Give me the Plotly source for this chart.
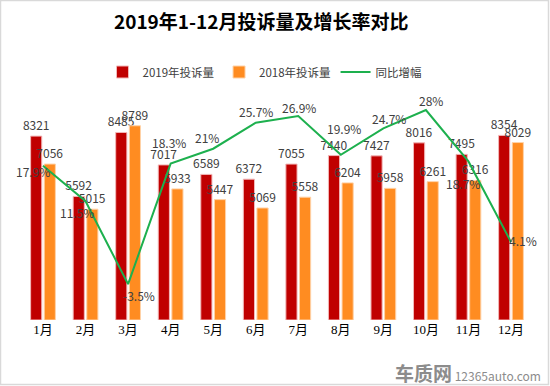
import plotly.graph_objects as go

months = ["1月", "2月", "3月", "4月", "5月", "6月", "7月", "8月", "9月", "10月", "11月", "12月"]
complaints_2019 = [8321, 5592, 8485, 7017, 6589, 6372, 7055, 7440, 7427, 8016, 7495, 8354]
complaints_2018 = [7056, 5015, 8789, 5933, 5447, 5069, 5558, 6204, 5958, 6261, 6316, 8029]
growth_pct = [17.9, 11.5, -3.5, 18.3, 21, 25.7, 26.9, 19.9, 24.7, 28, 18.7, 4.1]
growth_labels = ["17.9%", "11.5%", "-3.5%", "18.3%", "21%", "25.7%", "26.9%", "19.9%", "24.7%", "28%", "18.7%", "4.1%"]

# label offsets (pixels) from each line point, as placed in the reference
label_dx = [-10, -9, 11, -2, -6, 0, 1, 3, 6, 5, -5, 12]
label_dy = [-6, -11, -11, 21, 11, 11, 9, 26, 10, 10, -22, 2]

W, H = 550, 386
ML, MR, MT, MB = 14, 11, 99, 66
PW, PH = W - ML - MR, H - MT - MB

lab_font = dict(family="Noto Sans CJK SC, Noto Sans, sans-serif", size=12, color="#404040")

fig = go.Figure()
fig.add_trace(go.Bar(
    x=months, y=complaints_2019, name="2019年投诉量",
    marker=dict(color="#C00000", line=dict(color="#F2B8B8", width=1)),
    text=[str(v) for v in complaints_2019], textposition="outside", constraintext="none",
    textfont=lab_font, cliponaxis=False,
))
fig.add_trace(go.Bar(
    x=months, y=complaints_2018, name="2018年投诉量",
    marker=dict(color="#FF8C21", line=dict(color="#FFD2A8", width=1)),
    text=[str(v) for v in complaints_2018], textposition="outside", constraintext="none",
    textfont=lab_font, cliponaxis=False,
))
fig.add_trace(go.Scatter(
    x=months, y=growth_pct, name="同比增幅", yaxis="y2",
    mode="lines", line=dict(color="#1DB04E", width=2), cliponaxis=False,
))

for m, v, t, dx, dy in zip(months, growth_pct, growth_labels, label_dx, label_dy):
    fig.add_annotation(x=m, y=v, xref="x", yref="y2", text=t, showarrow=False,
                       xshift=dx, yshift=dy, xanchor="center", yanchor="middle",
                       font=lab_font)

fig.update_layout(
    width=W, height=H,
    margin=dict(l=ML, r=MR, t=MT, b=MB),
    paper_bgcolor="white", plot_bgcolor="white",
    barmode="group", bargap=0.36, bargroupgap=0.18,
    title=dict(text="<b>2019年1-12月投诉量及增长率对比</b>",
               font=dict(family="Noto Sans CJK SC, sans-serif", size=19, color="#000000"),
               x=0.475, xref="container", xanchor="center",
               y=1 - 22 / H, yref="container", yanchor="middle"),
    legend=dict(orientation="h", x=(265 - ML) / PW, xanchor="center",
                y=1 + (MT - 72) / PH, yanchor="middle",
                font=dict(family="Noto Sans CJK SC, sans-serif", size=11.5, color="#404040"),
                itemwidth=30, tracegroupgap=0, bgcolor="rgba(0,0,0,0)"),
    xaxis=dict(showgrid=False, showline=False, zeroline=False, ticks="",
               tickfont=dict(family="Liberation Serif, Noto Sans CJK SC, serif", size=13, color="#000000")),
    yaxis=dict(range=[0, 10000], visible=False, showgrid=False),
    yaxis2=dict(range=[-10, 30], overlaying="y", side="right", visible=False, showgrid=False),
    showlegend=True,
)

fig.add_annotation(
    xref="paper", yref="paper", x=(543 - ML) / PW, y=-(372 - (MT + PH)) / PH,
    xanchor="right", yanchor="middle", showarrow=False,
    text="<span style='font-size:19px'><b>车质网</b></span> 12365auto.com",
    font=dict(family="Noto Sans CJK SC, sans-serif", size=12, color="#8C8C8C"),
)

fig.add_shape(type="rect", xref="paper", yref="paper",
              x0=-ML / PW + 0.5 / PW, x1=1 + MR / PW - 1.5 / PW,
              y0=-MB / PH + 1.5 / PH, y1=1 + MT / PH - 0.5 / PH,
              line=dict(color="#D9D9D9", width=1.5), fillcolor="rgba(0,0,0,0)", layer="below")

fig.write_html("out.html", post_script="document.body.style.margin='0px';",
               config={"displayModeBar": False})
